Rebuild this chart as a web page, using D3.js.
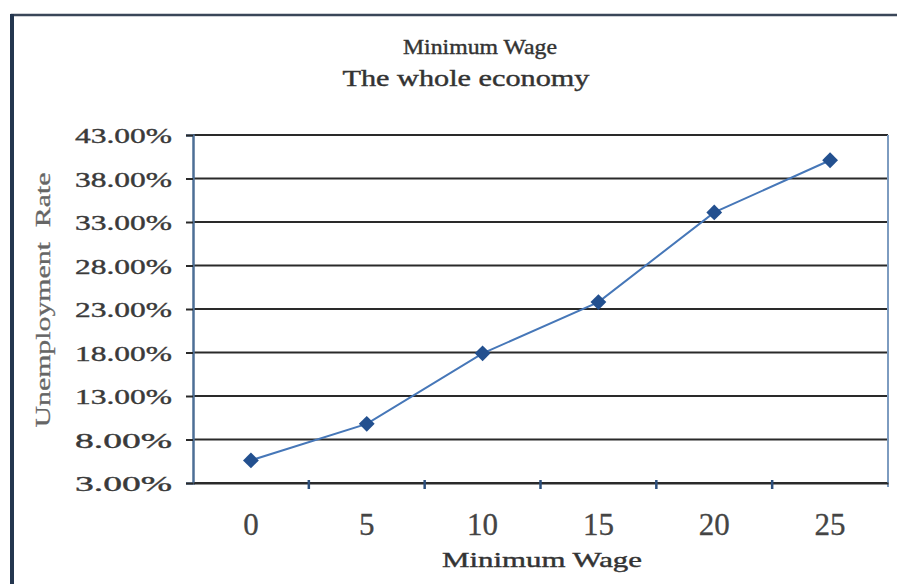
<!DOCTYPE html>
<html>
<head>
<meta charset="utf-8">
<script src="https://cdn.jsdelivr.net/npm/d3@7"></script>
<style>
  html, body { margin: 0; padding: 0; background: #fff; }
  svg { display: block; }
  text { font-family: "Liberation Serif", "Times New Roman", serif; }
</style>
</head>
<body>
<svg id="chart" width="897" height="584"></svg>
<script>
// Unemployment rate by minimum wage level, whole economy
const wages = ["0", "5", "10", "15", "20", "25"];
const unemployment = [5.6, 9.8, 17.9, 23.8, 34.1, 40.1];
const yTicks = [3, 8, 13, 18, 23, 28, 33, 38, 43];
const titleLines = ["Minimum Wage", "The whole economy"];
const xTitle = "Minimum Wage";
const yTitle = "Unemployment\u00a0\u00a0Rate";

const svg = d3.select("#chart");
const W = 897, H = 584;
const plot = { left: 193, right: 888, top: 135, bottom: 483 };

// Outer chart frame (runs past the right and bottom edges)
svg.append("rect")
  .attr("x", 12).attr("y", 15)
  .attr("width", W + 20).attr("height", H + 20)
  .attr("fill", "#fff")
  .attr("stroke", "#3a4658").attr("stroke-width", 2.5);
svg.append("line")
  .attr("x1", 12).attr("x2", 12).attr("y1", 14).attr("y2", H)
  .attr("stroke", "#24364f").attr("stroke-width", 4);

const x = d3.scaleBand().domain(wages).range([plot.left, plot.right]).padding(0);
const y = d3.scaleLinear().domain([3, 43]).range([plot.bottom, plot.top]);

// Horizontal gridlines
svg.append("g")
  .selectAll("line")
  .data(yTicks)
  .join("line")
  .attr("x1", plot.left).attr("x2", plot.right)
  .attr("y1", d => y(d)).attr("y2", d => y(d))
  .attr("stroke", "#2a2a2a").attr("stroke-width", 2);

// Right edge of the plot area
svg.append("line")
  .attr("x1", plot.right).attr("x2", plot.right)
  .attr("y1", plot.top).attr("y2", plot.bottom + 4)
  .attr("stroke", "#7d9cc0").attr("stroke-width", 2);

// Y axis
const yAxis = d3.axisLeft(y)
  .tickValues(yTicks)
  .tickFormat(d => d3.format(".2f")(d) + "%")
  .tickSize(7)
  .tickPadding(0);
const gy = svg.append("g")
  .attr("transform", `translate(${plot.left},0)`)
  .call(yAxis);
gy.select(".domain").attr("stroke", "#4d6f96").attr("stroke-width", 2.5);
gy.selectAll(".tick line").attr("stroke", "#2a2a2a").attr("stroke-width", 2);
gy.selectAll(".tick text")
  .attr("x", -21)
  .attr("dy", null)
  .attr("y", 7.5)
  .attr("font-size", 22)
  .attr("textLength", 97)
  .attr("lengthAdjust", "spacingAndGlyphs")
  .attr("fill", "#3a3a3a")
  .attr("stroke", "#3a3a3a").attr("stroke-width", 0.4)
  .style("font-family", "'Liberation Serif', serif");

// X axis with ticks on category boundaries
const xAxis = d3.axisBottom(x).tickSize(0).tickPadding(0);
const gx = svg.append("g")
  .attr("transform", `translate(0,${plot.bottom})`)
  .call(xAxis);
gx.select(".domain").attr("stroke", "#2a2a2a").attr("stroke-width", 2);
gx.selectAll(".tick text")
  .attr("dy", null)
  .attr("y", 52)
  .attr("font-size", 31)
  .attr("fill", "#444")
  .attr("stroke", "#444").attr("stroke-width", 0.3)
  .style("font-family", "'Liberation Serif', serif");
gx.append("g")
  .selectAll("line")
  .data(wages.slice(1))
  .join("line")
  .attr("x1", d => x(d)).attr("x2", d => x(d))
  .attr("y1", -3).attr("y2", 6)
  .attr("stroke", "#2c4f7c").attr("stroke-width", 2.5);

// Series line
const pts = wages.map((w, i) => [x(w) + x.bandwidth() / 2, y(unemployment[i])]);
svg.append("path")
  .datum(pts)
  .attr("d", d3.line())
  .attr("fill", "none")
  .attr("stroke", "#4677b8")
  .attr("stroke-width", 2);

// Diamond markers
svg.append("g")
  .selectAll("path")
  .data(pts)
  .join("path")
  .attr("transform", d => `translate(${d[0]},${d[1]}) rotate(45)`)
  .attr("d", d3.symbol().type(d3.symbolSquare).size(125))
  .attr("fill", "#23508f");

// Titles
function label(xPos, yPos, txt, size, len, color) {
  return svg.append("text")
    .attr("x", xPos).attr("y", yPos)
    .attr("text-anchor", "middle")
    .attr("font-size", size)
    .attr("textLength", len)
    .attr("lengthAdjust", "spacingAndGlyphs")
    .attr("fill", color)
    .attr("stroke", color).attr("stroke-width", 0.4)
    .text(txt);
}
label(480, 54, titleLines[0], 21, 154, "#333");
label(466, 86, titleLines[1], 23, 247, "#333");
label(542, 567, xTitle, 21, 200, "#333");

svg.append("text")
  .attr("transform", `translate(50,300) rotate(-90)`)
  .attr("text-anchor", "middle")
  .attr("font-size", 22)
  .attr("textLength", 255)
  .attr("lengthAdjust", "spacingAndGlyphs")
  .attr("fill", "#666")
  .attr("stroke", "#666").attr("stroke-width", 0.3)
  .text(yTitle);
</script>
</body>
</html>
